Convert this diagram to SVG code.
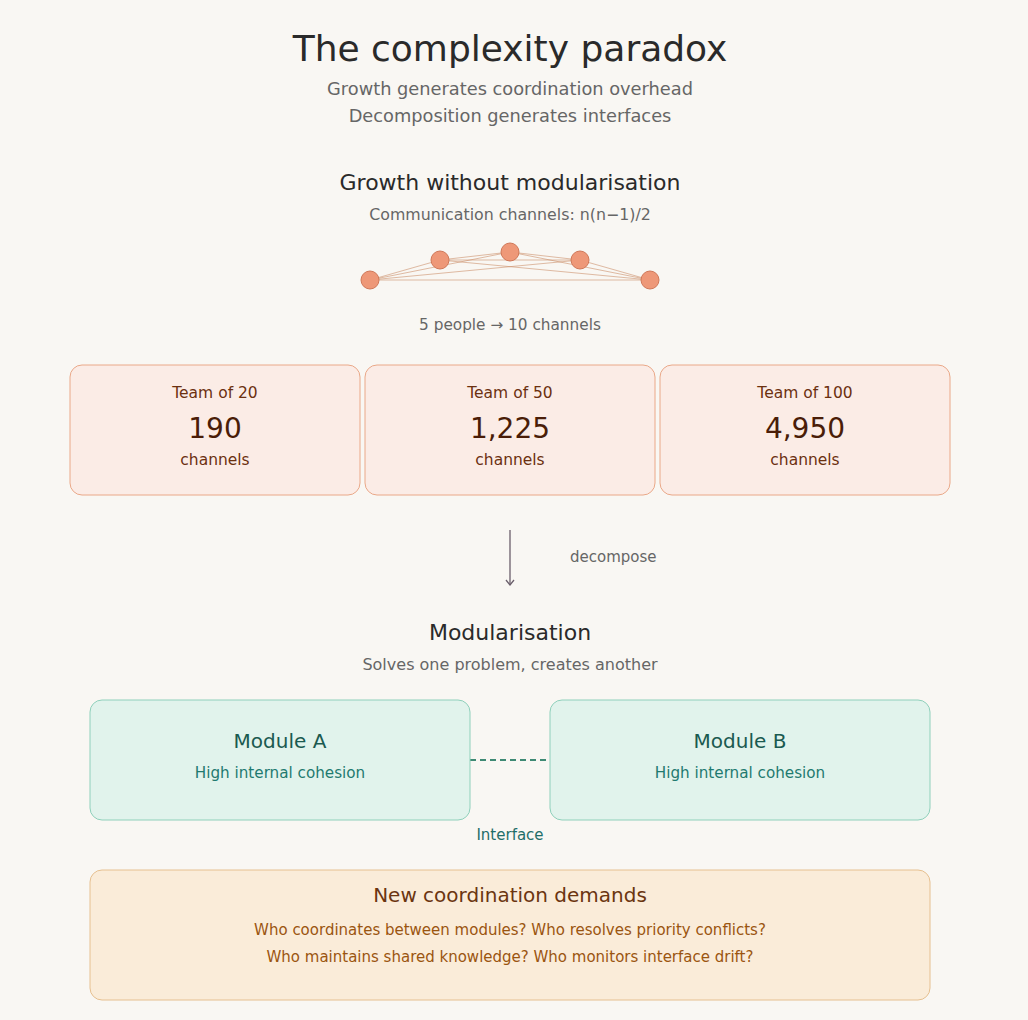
<svg xmlns="http://www.w3.org/2000/svg" width="1028" height="1020" viewBox="0 0 1028 1020">
<style>
text{font-family:"DejaVu Sans",sans-serif;text-anchor:middle}
.sub{font-size:17.8px;fill:#666}
.h2{font-size:22px;fill:#2a2a2a}
.note{font-size:15px;fill:#666}
.card{fill:#fbece6;stroke:#eaa888;stroke-width:1}
.ct{font-size:15.5px;fill:#6b3010}
.cn{font-size:28px;fill:#4a1d08}
.mod{fill:#e1f3ec;stroke:#8fd0bb;stroke-width:1}
.mt{font-size:20px;fill:#1a5a50}
.ms{font-size:15.2px;fill:#1f7a70}
.net line{stroke:#c98860;stroke-width:1;opacity:0.55}
.dot{fill:#ee9878;stroke:#d07858;stroke-width:1}
</style>
<defs>
<marker id="ah" viewBox="0 0 10 10" refX="9" refY="5" markerWidth="10" markerHeight="10" markerUnits="userSpaceOnUse" orient="auto">
<path d="M4,1 L9,5 L4,9" fill="none" stroke="#6b5f6b" stroke-width="1.3"/>
</marker>
</defs>
<rect width="1028" height="1020" fill="#f9f7f3"/>
<g id="header">
<text x="510" y="61" style="font-size:36px;fill:#2a2a2a">The complexity paradox</text>
<text x="510" y="95" class="sub">Growth generates coordination overhead</text>
<text x="510" y="122" class="sub">Decomposition generates interfaces</text>
</g>
<g id="growth">
<text x="510" y="190" class="h2">Growth without modularisation</text>
<text x="510" y="220" class="note" style="font-size:15.8px">Communication channels: n(n−1)/2</text>
<g class="net">
<line x1="370" y1="280" x2="440" y2="260"/>
<line x1="370" y1="280" x2="510" y2="252"/>
<line x1="370" y1="280" x2="580" y2="260"/>
<line x1="370" y1="280" x2="650" y2="280"/>
<line x1="440" y1="260" x2="510" y2="252"/>
<line x1="440" y1="260" x2="580" y2="260"/>
<line x1="440" y1="260" x2="650" y2="280"/>
<line x1="510" y1="252" x2="580" y2="260"/>
<line x1="510" y1="252" x2="650" y2="280"/>
<line x1="580" y1="260" x2="650" y2="280"/>
</g>
<circle class="dot" cx="370" cy="280" r="9"/>
<circle class="dot" cx="440" cy="260" r="9"/>
<circle class="dot" cx="510" cy="252" r="9"/>
<circle class="dot" cx="580" cy="260" r="9"/>
<circle class="dot" cx="650" cy="280" r="9"/>
<text x="510" y="330" class="note" style="font-size:15.3px">5 people → 10 channels</text>
</g>
<g id="team20">
<rect class="card" x="70" y="365" width="290" height="130" rx="12"/>
<text x="215" y="398" class="ct">Team of 20</text>
<text x="215" y="438" class="cn">190</text>
<text x="215" y="465" class="ct">channels</text>
</g>
<g id="team50">
<rect class="card" x="365" y="365" width="290" height="130" rx="12"/>
<text x="510" y="398" class="ct">Team of 50</text>
<text x="510" y="438" class="cn">1,225</text>
<text x="510" y="465" class="ct">channels</text>
</g>
<g id="team100">
<rect class="card" x="660" y="365" width="290" height="130" rx="12"/>
<text x="805" y="398" class="ct">Team of 100</text>
<text x="805" y="438" class="cn">4,950</text>
<text x="805" y="465" class="ct">channels</text>
</g>
<g id="connectors">
<line x1="510" y1="530" x2="510" y2="585" stroke="#6b5f6b" stroke-width="1.3" marker-end="url(#ah)"/>
<text x="570" y="562" class="note" style="text-anchor:start">decompose</text>
<line x1="470" y1="760" x2="550" y2="760" stroke="#3f8a74" stroke-width="2" stroke-dasharray="6,4"/>
<text x="510" y="840" style="font-size:15px;fill:#1f6e68">Interface</text>
</g>
<g id="modularisation">
<text x="510" y="640" class="h2">Modularisation</text>
<text x="510" y="670" class="note" style="font-size:16px">Solves one problem, creates another</text>
</g>
<g id="moduleA">
<rect class="mod" x="90" y="700" width="380" height="120" rx="12"/>
<text x="280" y="748" class="mt">Module A</text>
<text x="280" y="778" class="ms">High internal cohesion</text>
</g>
<g id="moduleB">
<rect class="mod" x="550" y="700" width="380" height="120" rx="12"/>
<text x="740" y="748" class="mt">Module B</text>
<text x="740" y="778" class="ms">High internal cohesion</text>
</g>
<g id="demands">
<rect x="90" y="870" width="840" height="130" rx="12" fill="#faecd9" stroke="#e6c090"/>
<text x="510" y="902" style="font-size:20px;fill:#6b3510">New coordination demands</text>
<text x="510" y="935" style="font-size:15px;fill:#9a5510">Who coordinates between modules? Who resolves priority conflicts?</text>
<text x="510" y="962" style="font-size:15px;fill:#9a5510">Who maintains shared knowledge? Who monitors interface drift?</text>
</g>
</svg>
